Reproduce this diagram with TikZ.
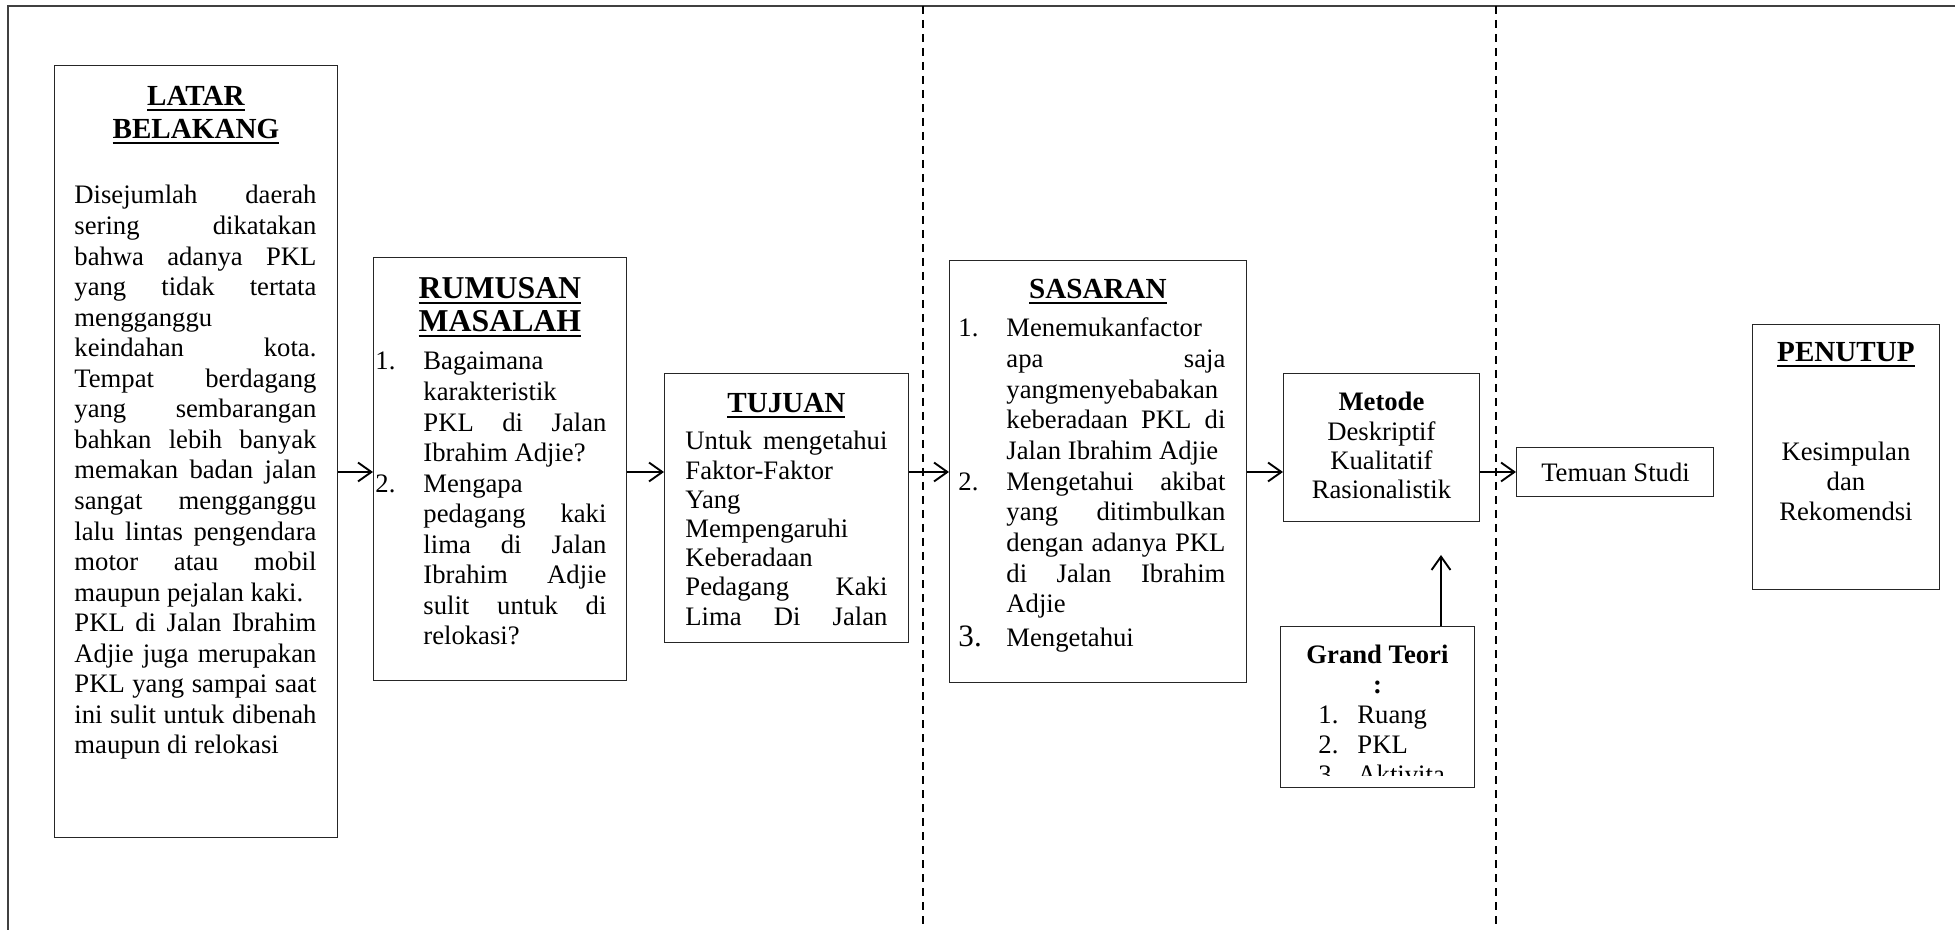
\documentclass[tikz,border=0pt]{standalone}
\usepackage{fontspec}
\setmainfont{Liberation Serif}
\usetikzlibrary{arrows.meta}

% one drawing unit
\newlength\px \setlength\px{0.45pt}
\newlength\linew
\newlength\numw
% justified line (spaces stretch), ragged line, centred line; optional list label
\newcommand\jl[2][]{\hbox{\hbox to\numw{#1\hfil}\hbox to\linew{\spaceskip=3pt plus 1fil\relax #2}}}
\newcommand\rl[2][]{\hbox{\hbox to\numw{#1\hfil}\hbox to\linew{#2\hfil}}}
\newcommand\cl[1]{\hbox to\linew{\hfil#1\hfil}}
% text block: line width, label width, line spacing, lines
\newcommand\blk[4]{\vtop{\linew=#1\relax\numw=#2\relax\baselineskip=#3\relax\lineskiplimit=-100pt\lineskip=0pt\frenchspacing #4}}
% heavy underline for headings
\newcommand\titleul[1]{\setbox0=\hbox{#1}\rlap{\rule[-2.2pt]{\wd0}{1pt}}\box0}
% rectangle node from its corners
\newcommand\boxnode[5]{\node[box, minimum width={(#4-#2)*0.45pt}, minimum height={(#5-#3)*0.45pt}] (#1) at (#2,#3) {};}

\begin{document}
\begin{tikzpicture}[x=0.45pt, y=-0.45pt,
  box/.style={draw=black!85, line width=0.55pt, inner sep=0pt, anchor=north west},
  txt/.style={anchor=base west, inner sep=0pt, font=\fontsize{12}{13.8}\selectfont},
  ttl/.style={anchor=base west, inner sep=0pt, font=\fontsize{13.1}{14.85}\selectfont\bfseries},
  arr/.style={-{Straight Barb[length=6pt,width=8.5pt]}, line width=0.85pt},
  frameline/.style={line width=0.8pt, draw=black!75},
  divider/.style={line width=0.55pt, dash pattern=on 3.6pt off 2.7pt}]
\useasboundingbox (0,0) rectangle (1955,930);

% page frame and section dividers
\draw[frameline] (8,930) -- (8,6) -- (1955,6);
\draw[divider] (923,6) -- (923,930);
\draw[divider] (1496,6) -- (1496,930);

% boxes
\boxnode{latar}{54}{65}{337}{837}
\boxnode{rumusan}{373}{257}{626}{680}
\boxnode{tujuan}{664}{373}{908}{642}
\boxnode{sasaran}{949}{260}{1246}{682}
\boxnode{metode}{1283}{373}{1479}{521}
\boxnode{grand}{1280}{626}{1474}{787}
\boxnode{temuan}{1516}{447}{1713}{496}
\boxnode{penutup}{1752}{324}{1939}{589}

% LATAR BELAKANG
\node[ttl] (latartitle) at (54,106) {\blk{283\px}{0pt}{14.85pt}{\cl{\titleul{LATAR}}\cl{\titleul{BELAKANG}}}};
\node[txt] (latarbody) at (74,204) {\blk{242\px}{0pt}{13.75pt}{%
\jl{Disejumlah daerah}
\jl{sering dikatakan}
\jl{bahwa adanya PKL}
\jl{yang tidak tertata}
\rl{mengganggu}
\jl{keindahan kota.}
\jl{Tempat berdagang}
\jl{yang sembarangan}
\jl{bahkan lebih banyak}
\jl{memakan badan jalan}
\jl{sangat mengganggu}
\jl{lalu lintas pengendara}
\jl{motor atau mobil}
\rl{maupun pejalan kaki.}
\jl{PKL di Jalan Ibrahim}
\jl{Adjie juga merupakan}
\jl{PKL yang sampai saat}
\jl{ini sulit untuk dibenah}
\rl{maupun di relokasi}}};

% RUMUSAN MASALAH
\node[ttl, font=\fontsize{14.3}{15}\selectfont\bfseries] (rumtitle) at (373,299)
  {\blk{253\px}{0pt}{14.85pt}{\cl{\titleul{RUMUSAN}}\cl{\titleul{MASALAH}}}};
\node[txt] (rumbody) at (375,370) {\blk{183\px}{48\px}{13.75pt}{%
\rl[1.]{Bagaimana}
\rl{karakteristik}
\jl{PKL di Jalan}
\rl{Ibrahim Adjie?}
\rl[2.]{Mengapa}
\jl{pedagang kaki}
\jl{lima di Jalan}
\jl{Ibrahim Adjie}
\jl{sulit untuk di}
\rl{relokasi?}}};

% TUJUAN
\node[ttl] (tujtitle) at (664,413) {\blk{244\px}{0pt}{14.85pt}{\cl{\titleul{TUJUAN}}}};
\node[txt] (tujbody) at (685,450) {\blk{202\px}{0pt}{13.14pt}{%
\jl{Untuk mengetahui}
\rl{Faktor-Faktor}
\rl{Yang}
\rl{Mempengaruhi}
\rl{Keberadaan}
\jl{Pedagang Kaki}
\jl{Lima Di Jalan}}};

% SASARAN
\node[ttl] (sastitle) at (949,299) {\blk{297\px}{0pt}{14.85pt}{\cl{\titleul{SASARAN}}}};
\node[txt] (sasbody) at (958,337) {\blk{219\px}{48\px}{13.8pt}{%
\rl[1.]{Menemukanfactor}
\jl{apa saja}
\rl{yangmenyebabakan}
\jl{keberadaan PKL di}
\rl{Jalan Ibrahim Adjie}
\jl[2.]{Mengetahui akibat}
\jl{yang ditimbulkan}
\jl{dengan adanya PKL}
\jl{di Jalan Ibrahim}
\rl{Adjie}
\vskip 1.5pt
\rl[{\fontsize{14}{14}\selectfont 3.}]{Mengetahui}}};

% Metode
\node[txt] (mettext) at (1283,411) {\blk{196\px}{0pt}{13.2pt}{%
\cl{\bfseries Metode}
\cl{Deskriptif}
\cl{Kualitatif}
\cl{Rasionalistik}}};

% Grand Teori (last item cut off by the box)
\node[txt] (grandtitle) at (1280,664) {\blk{194\px}{0pt}{13.1pt}{%
\cl{\bfseries Grand Teori}
\cl{\bfseries :}}};
\begin{scope}
\clip (1280,626) rectangle (1474,776);
\node[txt] (grandlist) at (1318,724) {\blk{120\px}{39\px}{13.5pt}{%
\rl[1.]{Ruang}
\rl[2.]{PKL}
\rl[3.]{Aktivita}}};
\end{scope}

% Temuan Studi
\node[anchor=base, inner sep=0pt, font=\fontsize{12}{13.8}\selectfont] (temuantext) at (1615.5,482) {Temuan Studi};

% PENUTUP
\node[ttl] (pentitle) at (1752,362) {\blk{187\px}{0pt}{14.85pt}{\cl{\titleul{PENUTUP}}}};
\node[txt] (penbody) at (1752,461) {\blk{187\px}{0pt}{13.5pt}{%
\cl{Kesimpulan}
\cl{dan}
\cl{Rekomendsi}}};

% connectors
\coordinate (row) at (0,472);
\draw[arr] (latar.east |- row) -- (rumusan.west |- row);
\draw[arr] (rumusan.east |- row) -- (tujuan.west |- row);
\draw[arr] (tujuan.east |- row) -- (sasaran.west |- row);
\draw[arr] (sasaran.east |- row) -- (metode.west |- row);
\draw[arr] (metode.east |- row) -- (temuan.west |- row);
\coordinate (gtip) at (1441,555);
\draw[arr] (grand.north -| gtip) -- (gtip);
\end{tikzpicture}
\end{document}
